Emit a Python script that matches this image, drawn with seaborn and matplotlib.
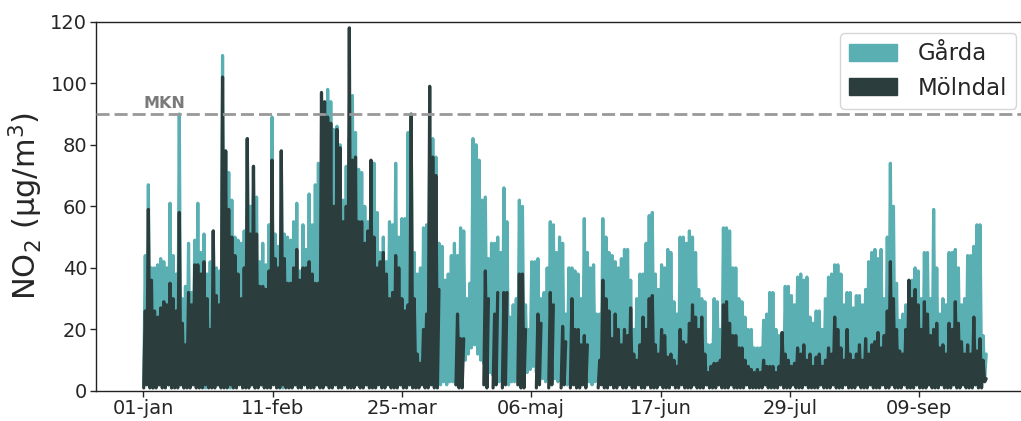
import numpy as np
import pandas as pd
import matplotlib
matplotlib.use("Agg")
import matplotlib.pyplot as plt
from matplotlib.patches import Patch
import seaborn as sns

# Stations and styling
stations = ["Gårda", "Mölndal"]
station_colors = ["#5aafb3", "#2c3d3d"]
mkn_limit = 90
mkn_label = "MKN"
ylabel = "NO$_2$ (µg/m$^3$)"

# Tick positions in hours since 1 January, with their date labels
tick_hours = [0, 1004, 2008, 3012, 4016, 5020, 6024]
tick_labels = ["01-jan", "11-feb", "25-mar", "06-maj", "17-jun", "29-jul", "09-sep"]

# Daily peak and daily low NO2 (µg/m3), 1 Jan - 30 Sep; None = no valid data
garda_max = [
    44, 67, 40, 40, 41, 43, 42, 40, 61, 44,
    38, 90, 30, 34, 48, 32, 49, 61, 45, 51,
    38, 42, 52, 40, 39, 109, 78, 71, 62, 50,
    49, 48, 52, 82, 60, 73, 63, 42, 48, 41,
    54, 89, 51, 47, 78, 51, 50, 49, 55, 61,
    39, 54, 46, 64, 54, 67, 74, 62, 74, 98,
    94, 85, 86, 80, 62, 73, 82, 96, 84, 72,
    71, 60, 55, 73, 74, 58, 45, 50, 42, 55,
    54, 74, 50, 56, 56, 84, 88, 45, 38, 40,
    53, 54, 78, 82, 76, 48, 47, 36, 38, 44,
    48, 44, 53, 52, 30, 35, 82, 80, 75, 62,
    63, 43, 48, 48, 50, 45, 66, 55, 24, 28,
    30, 62, 60, 28, 20, 42, 42, 43, 30, 32,
    40, 55, 54, 45, 50, 48, 25, 40, 40, 39,
    38, 30, 56, 45, 40, 41, 25, 25, 56, 50,
    45, 44, 42, 40, 43, 46, 46, 36, 20, 30,
    38, 38, 48, 57, 58, 38, 33, 41, 40, 46,
    45, 29, 25, 50, 50, 48, 52, 50, 45, 33,
    30, 29, 15, 15, 30, 29, 20, 53, 53, 52,
    40, 40, 30, 29, 24, 20, 20, 14, 14, 14,
    23, 25, 32, 32, 20, 18, 19, 34, 34, 31,
    28, 37, 38, 36, 37, 24, 22, 26, 26, 20,
    30, 37, 38, 41, 41, 38, 28, 32, 32, 27,
    31, 31, 28, 33, 42, 45, 46, 43, 46, 30,
    50, 74, 60, 35, 23, 25, 28, 30, 36, 40,
    39, 30, 45, 45, 30, 59, 40, 25, 30, 28,
    45, 45, 46, 40, 28, 30, 44, 44, 47, 54,
    54, 18, 12,
]
garda_min = [
    2, 3, 2, 1, 2, 2, 3, 2, 2, 1,
    2, 3, 2, 1, 2, 2, 3, 2, 2, 2,
    1, 2, 3, 2, 2, 3, 2, 2, 1, 2,
    2, 3, 2, 2, 3, 2, 1, 2, 2, 3,
    2, 2, 3, 2, 2, 1, 2, 2, 3, 2,
    2, 3, 2, 2, 2, 3, 2, 2, 3, 2,
    2, 3, 2, 2, 3, 2, 2, 3, 2, 2,
    3, 2, 2, 3, 2, 2, 3, 2, 2, 3,
    2, 2, 3, 2, 3, 3, 2, 4, 3, 5,
    3, 3, 2, 3, 3, 2, 2, 3, 2, 3,
    3, 2, 3, 4, 10, 12, 14, 15, 12, 10,
    9, 7, 6, 5, 4, 3, 3, 3, 2, 3,
    3, 4, 3, 4, 6, 7, 8, 6, 5, 4,
    3, 4, 3, 4, 3, 4, 3, 2, 3, 4,
    3, 3, 4, 3, 3, 2, 3, 3, 4, 4,
    4, 3, 3, 4, 3, 4, 3, 2, 3, 3,
    3, 3, 2, 3, 3, 2, 2, 3, 2, 2,
    2, 3, 2, 2, 3, 2, 2, 2, 2, 3,
    2, 2, 2, 2, 3, 2, 2, 2, 3, 2,
    2, 2, 2, 2, 2, 2, 2, 2, 2, 2,
    2, 2, 2, 2, 2, 2, 2, 2, 2, 2,
    2, 2, 2, 3, 2, 2, 2, 2, 2, 2,
    2, 2, 2, 2, 2, 3, 2, 2, 2, 2,
    2, 2, 2, 2, 2, 2, 2, 2, 2, 2,
    2, 2, 3, 2, 2, 2, 2, 2, 2, 2,
    2, 2, 2, 2, 2, 2, 2, 2, 2, 2,
    2, 2, 2, 2, 2, 2, 2, 2, 2, 2,
    2, 3, 4,
]
N = None
molndal_max = [
    26, 59, 36, 26, 24, 27, 29, 28, 35, 30,
    26, 58, 22, 15, 32, 28, 41, 41, 38, 42,
    30, 20, 52, 31, 28, 102, 78, 59, 50, 44,
    38, 30, 40, 82, 51, 73, 51, 34, 34, 33,
    39, 75, 43, 40, 78, 43, 35, 35, 40, 46,
    36, 40, 40, 42, 38, 35, 35, 97, 94, 89,
    87, 60, 85, 79, 55, 60, 118, 75, 76, 55,
    55, 48, 52, 75, 50, 40, 42, 45, 38, 30,
    32, 44, 40, 30, 26, 28, 90, 30, 12, 9,
    20, 25, 99, 76, 70, 33, N, N, N, N,
    N, 25, 17, 17, N, N, N, N, N, N,
    39, 30, N, 25, 32, N, 32, 32, N, N,
    N, 38, 38, 20, N, N, N, 25, 22, N,
    N, 32, 28, N, N, 21, 16, N, 30, 20,
    20, 15, 18, 15, N, N, N, 10, 36, 30,
    26, 17, 25, 20, 15, 20, 18, 27, 12, 10,
    15, 24, 20, 30, 31, 15, 12, 20, 18, 11,
    12, 10, 8, 20, 16, 15, 22, 28, 24, 20,
    24, 12, 6, 8, 9, 9, 10, 28, 29, 22,
    18, 18, 14, 14, 10, 8, 7, 6, 7, 6,
    10, 8, 8, 8, 6, 8, 19, 12, 10, 8,
    9, 14, 12, 15, 10, 12, 8, 11, 12, 8,
    10, 14, 12, 24, 20, 14, 10, 20, 12, 10,
    12, 15, 10, 17, 12, 15, 16, 19, 14, 18,
    26, 42, 30, 20, 13, 12, 20, 36, 30, 33,
    28, 20, 29, 25, 18, 20, 22, 14, 15, 12,
    22, 20, 29, 22, 16, 12, 15, 12, 24, 13,
    17, 10, 4,
]
molndal_min = [
    1, 2, 1, 1, 1, 2, 1, 1, 2, 1,
    1, 1, 2, 1, 1, 1, 2, 1, 1, 1,
    2, 1, 1, 1, 2, 1, 1, 1, 2, 1,
    1, 2, 1, 1, 1, 2, 1, 1, 2, 1,
    1, 1, 2, 1, 1, 2, 1, 1, 1, 2,
    1, 1, 2, 1, 1, 1, 2, 1, 1, 2,
    1, 1, 2, 1, 1, 2, 1, 1, 1, 2,
    1, 1, 2, 1, 1, 1, 2, 1, 1, 2,
    1, 1, 1, 2, 1, 1, 2, 1, 1, 1,
    2, 1, 1, 2, 1, 1, 1, 1, 1, 1,
    1, 2, 1, 1, 1, 1, 1, 1, 1, 1,
    2, 1, 1, 1, 2, 1, 1, 2, 1, 1,
    1, 2, 1, 1, 1, 1, 1, 1, 2, 1,
    1, 1, 2, 1, 1, 1, 2, 1, 1, 2,
    1, 1, 2, 1, 1, 1, 1, 1, 2, 1,
    1, 2, 1, 1, 2, 1, 1, 2, 1, 1,
    2, 1, 1, 2, 1, 1, 1, 2, 1, 1,
    1, 2, 1, 1, 2, 1, 1, 1, 2, 1,
    1, 1, 2, 1, 1, 1, 2, 1, 1, 1,
    2, 1, 1, 1, 1, 2, 1, 1, 1, 1,
    1, 2, 1, 1, 1, 1, 2, 1, 1, 1,
    2, 1, 1, 1, 2, 1, 1, 1, 1, 2,
    1, 1, 1, 2, 1, 1, 1, 2, 1, 1,
    1, 2, 1, 1, 1, 2, 1, 1, 1, 2,
    1, 1, 2, 1, 1, 1, 2, 1, 1, 1,
    2, 1, 1, 1, 2, 1, 1, 1, 2, 1,
    1, 1, 2, 1, 1, 2, 1, 1, 1, 2,
    1, 1, 3,
]

series = {
    "Gårda": (garda_max, garda_min),
    "Mölndal": (molndal_max, molndal_min),
}
for hi, lo in series.values():
    assert len(hi) == len(lo) == 273

# Long table: each day contributes an early-morning low and an afternoon peak.
# Runs of valid days get their own segment id so missing days leave gaps.
rows = []
for name, (hi, lo) in series.items():
    seg, in_gap = 0, True
    for day, (peak, low) in enumerate(zip(hi, lo)):
        if peak is None:
            in_gap = True
            continue
        if in_gap:
            seg += 1
            in_gap = False
        rows.append((name, seg, day * 24 + 4, low))
        rows.append((name, seg, day * 24 + 16, peak))
df = pd.DataFrame(rows, columns=["station", "segment", "hour", "no2"])

sns.set_style("ticks")
plt.rcParams["font.family"] = ["DejaVu Sans"]

fig = plt.figure(figsize=(10.21, 4.21), dpi=100)
ax = fig.add_axes([0.0937, 0.0713, 0.9131, 0.8772])

for name, color in zip(stations, station_colors):
    sns.lineplot(
        data=df[df["station"] == name], x="hour", y="no2",
        units="segment", estimator=None, sort=False,
        color=color, linewidth=2.3, legend=False, ax=ax,
    )

ax.axhline(mkn_limit, color="#999999", linewidth=2.0, linestyle=(0, (4.7, 1.8)), zorder=3)
ax.text(0, mkn_limit + 1, mkn_label, color="#7a7a7a", fontsize=11.5,
        fontweight="bold", ha="left", va="bottom")

ax.set_xlim(-369, 6868)
ax.set_ylim(0, 120)
ax.set_yticks(range(0, 121, 20))
ax.set_xticks(tick_hours)
ax.set_xticklabels(tick_labels)
ax.set_xlabel("")
ax.set_ylabel(ylabel, fontsize=22)
ax.tick_params(labelsize=14, length=4, width=1, pad=2)
for spine in ax.spines.values():
    spine.set_linewidth(1.0)
    spine.set_color("#222222")

handles = [Patch(facecolor=c, edgecolor=c, label=n) for n, c in zip(stations, station_colors)]
ax.legend(handles=handles, loc="upper right", fontsize=16.5, frameon=True,
          handlelength=2.1, handleheight=0.75, handletextpad=0.9)

fig.savefig("out.png", dpi=100)
